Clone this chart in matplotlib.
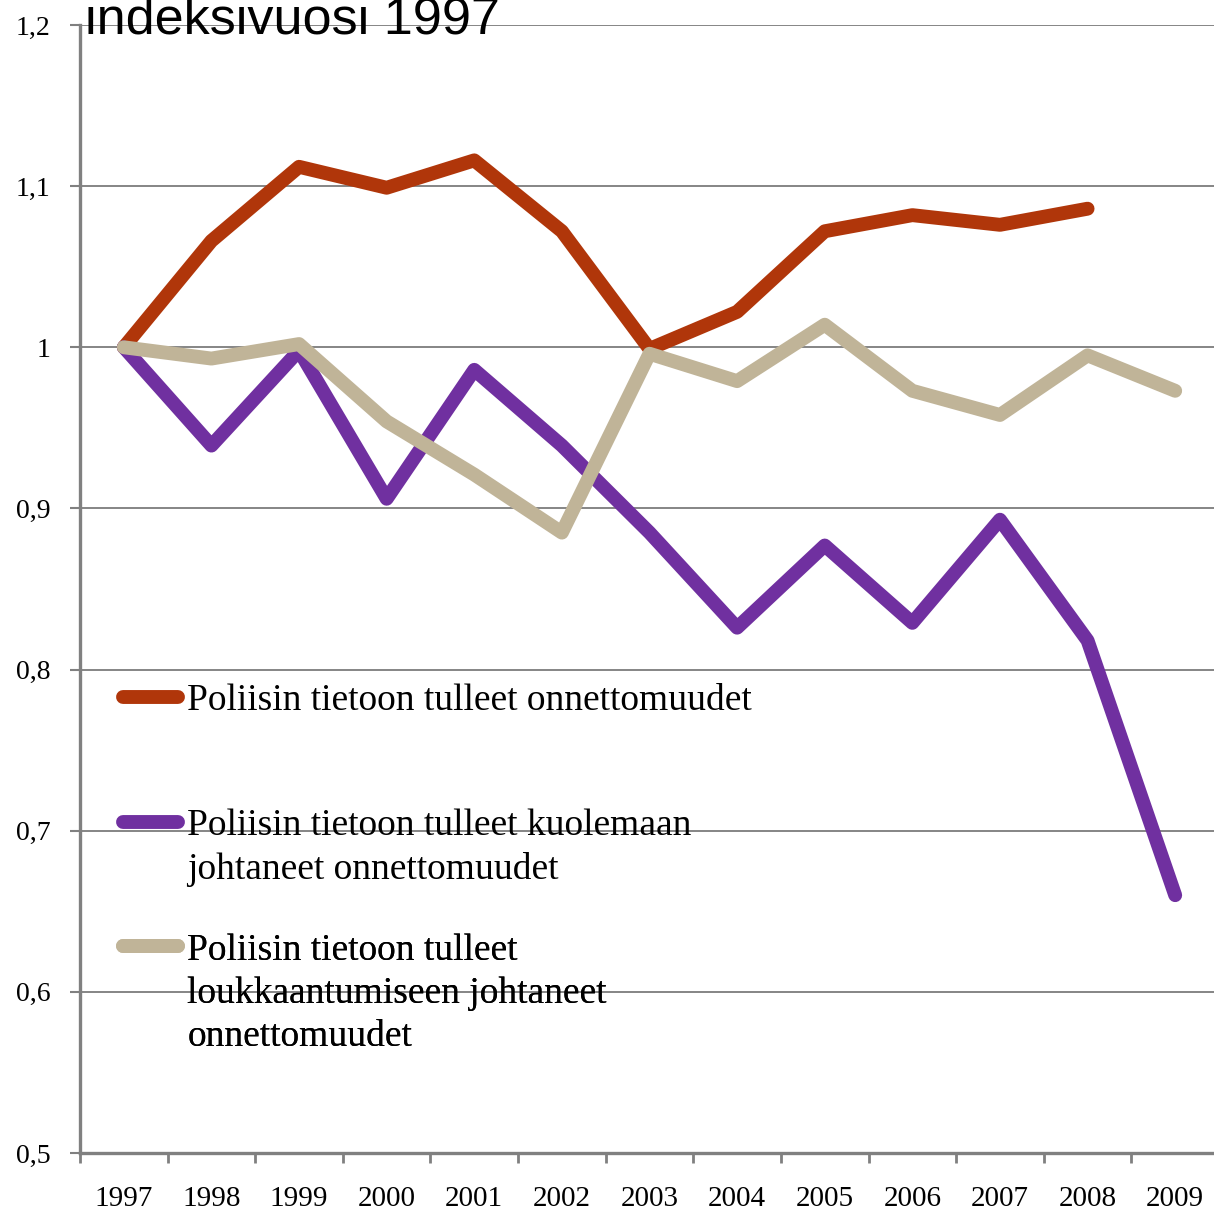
import matplotlib
matplotlib.use("Agg")
import matplotlib.pyplot as plt
from matplotlib.lines import Line2D

years = ["1997", "1998", "1999", "2000", "2001", "2002", "2003",
         "2004", "2005", "2006", "2007", "2008", "2009"]
onnettomuudet = [1.0, 1.066, 1.112, 1.099, 1.116, 1.072, 0.999,
                 1.022, 1.072, 1.082, 1.076, 1.086, None]
kuolemaan = [1.0, 0.939, 0.998, 0.906, 0.986, 0.939, 0.885,
             0.826, 0.877, 0.829, 0.893, 0.818, 0.660]
loukkaantumiseen = [1.0, 0.993, 1.002, 0.954, 0.921, 0.885, 0.996,
                    0.979, 1.014, 0.973, 0.958, 0.995, 0.973]
labels = ["Poliisin tietoon tulleet onnettomuudet",
          "Poliisin tietoon tulleet kuolemaan\njohtaneet onnettomuudet",
          "Poliisin tietoon tulleet\nloukkaantumiseen johtaneet\nonnettomuudet"]
colors = ["#B0360A", "#7030A0", "#C0B498"]
yticks = [0.5, 0.6, 0.7, 0.8, 0.9, 1.0, 1.1, 1.2]
ytick_labels = ["0,5", "0,6", "0,7", "0,8", "0,9", "1", "1,1", "1,2"]
title = "indeksivuosi 1997"

W, H = 1214, 1213
fig = plt.figure(figsize=(W / 100, H / 100), dpi=100)
ax = fig.add_axes([80 / W, 60 / H, (1219 - 80) / W, (1153 - 25) / H])

serif = "Liberation Serif"
x = list(range(len(years)))
series = [onnettomuudet, kuolemaan, loukkaantumiseen]
lines = []
for vals, c in zip(series, colors):
    xs = [xi for xi, v in zip(x, vals) if v is not None]
    ys = [v for v in vals if v is not None]
    ln, = ax.plot(xs, ys, color=c, lw=10, solid_capstyle="round",
                  solid_joinstyle="round", zorder=3)
    lines.append(ln)

ax.set_xlim(-0.5, len(years) - 0.5)
ax.set_ylim(0.5, 1.2)
ax.set_yticks(yticks)
ax.set_yticklabels(ytick_labels, fontfamily=serif, fontsize=20)
ax.set_xticks(x)
ax.set_xticklabels(years, fontfamily=serif, fontsize=21)
ax.set_xticks([i - 0.5 for i in range(len(years) + 1)], minor=True)
ax.tick_params(axis="x", which="major", length=0, pad=24)
ax.tick_params(axis="x", which="minor", length=7, width=2, color="#808080", direction="out")
ax.tick_params(axis="y", length=7, width=1.5, color="#808080", pad=14)
ax.grid(axis="y", color="#858585", lw=1.4)
ax.set_axisbelow(True)
for s in ["top", "right"]:
    ax.spines[s].set_visible(False)
for s in ["left", "bottom"]:
    ax.spines[s].set_color("#808080")
    ax.spines[s].set_linewidth(2.4)

anchors = [0.416, 0.305, 0.195]
for ln, lab, a in zip(lines, labels, anchors):
    h = Line2D([], [], color=ln.get_color(), lw=10, solid_capstyle="round")
    leg = ax.legend(handles=[h], labels=[lab], loc="upper left",
                    bbox_to_anchor=(0.0378, a), frameon=False,
                    prop={"family": serif, "size": 27}, handlelength=1.47,
                    handletextpad=0.24, borderaxespad=0, borderpad=0)
    for t in leg.get_texts():
        t.set_linespacing(1.32)
    for col in leg._legend_handle_box.get_children():
        for item in col.get_children():
            item.align = "top"
    ax.add_artist(leg)

fig.text(85 / W, 1 - 33 / H, title, fontfamily="Liberation Sans", fontsize=37.5,
         va="baseline", ha="left")

fig.savefig("out.png", dpi=100)
